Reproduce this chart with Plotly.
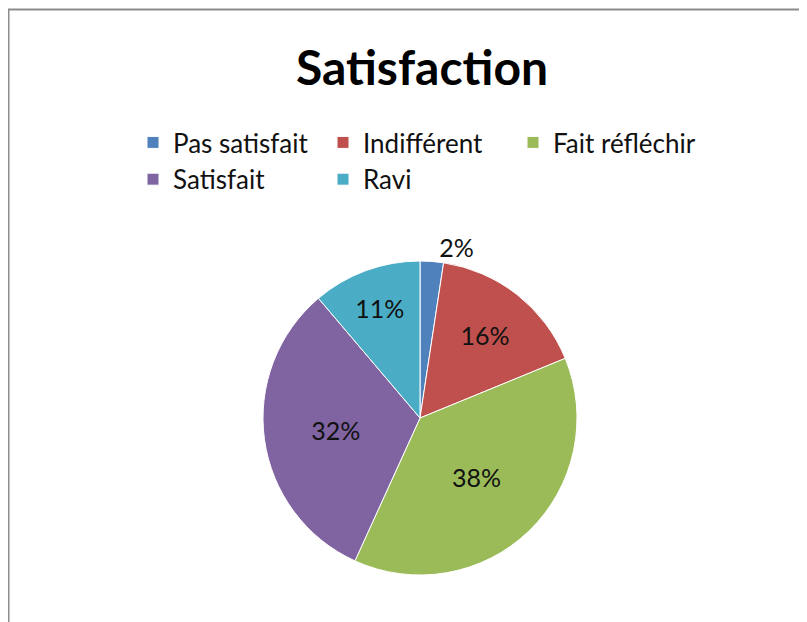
import plotly.graph_objects as go

labels = ["Pas satisfait", "Indifférent", "Fait réfléchir", "Satisfait", "Ravi"]
values = [2.4, 16.4, 38.0, 32.0, 11.2]
colors = ["#4F81BD", "#C0504D", "#9BBB59", "#8064A2", "#4BACC6"]
text_positions = ["outside", "inside", "inside", "inside", "inside"]

W, H = 807, 622
MR = 207                # right margin, only used to limit legend row width
PW = W - MR             # plot-area width
cx, cy, r = 412, 410, 157

fig = go.Figure(go.Pie(
    labels=labels,
    values=values,
    sort=False,
    direction="clockwise",
    rotation=0,
    marker=dict(colors=colors, line=dict(color="white", width=1)),
    textinfo="percent",
    texttemplate="%{percent:.0%}",
    textposition=text_positions,
    insidetextorientation="horizontal",
    textfont=dict(family="Lato, sans-serif", size=25, color="#111111"),
    outsidetextfont=dict(family="Lato, sans-serif", size=25, color="#111111"),
    domain=dict(x=[(cx - r) / PW, (cx + r) / PW], y=[(H - cy - r) / H, (H - cy + r) / H]),
    hoverinfo="label+percent",
))

fig.update_layout(
    width=W, height=H,
    margin=dict(l=0, r=MR, t=0, b=0, autoexpand=False),
    paper_bgcolor="white",
    plot_bgcolor="white",
    title=dict(text="<b>Satisfaction</b>", xref="container", x=414 / W, xanchor="center",
               yref="container", y=(H - 60) / H, yanchor="middle",
               font=dict(family="Lato, sans-serif", size=48, color="black")),
    legend=dict(orientation="h", x=125 / PW, xanchor="left", y=(H - 111) / H, yanchor="top",
                font=dict(family="Lato, sans-serif", size=26, color="#111111"),
                entrywidth=145, entrywidthmode="pixels", itemwidth=30, traceorder="normal"),
    shapes=[dict(type="rect", xref="paper", yref="paper",
                 x0=0.5 / PW, x1=1.5, y0=-0.05, y1=(H - 1.5) / H,
                 line=dict(color="#8C8C8C", width=2), fillcolor="rgba(0,0,0,0)")],
)

fig.write_html("out.html")
